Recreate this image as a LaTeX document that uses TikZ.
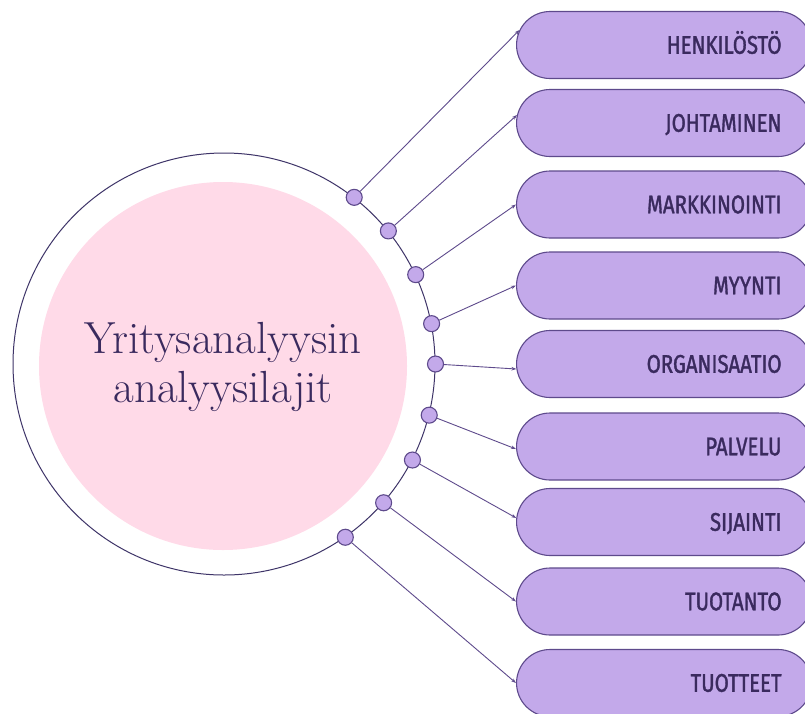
\documentclass[tikz,border=0pt]{standalone}
\usepackage{fontspec}
\newfontfamily\labelfont[FakeStretch=0.8, FakeBold=1.4]{Fira Sans}
\usetikzlibrary{arrows.meta}
\definecolor{lav}{HTML}{C3A9EA}
\definecolor{lavline}{HTML}{5E4A8C}
\definecolor{ink}{HTML}{3A2A5E}
\definecolor{blush}{HTML}{FFDAE8}
\definecolor{ringcol}{HTML}{3E3468}

\begin{document}
\begin{tikzpicture}[x=1pt,y=-1pt,
  topic/.style={draw=lavline, line width=1.1pt, fill=lav, rounded corners=33.5pt,
    minimum height=67pt, text width=235pt, align=right, inner xsep=30pt, inner ysep=0pt,
    text height=17.5pt, text depth=0pt,
    font=\labelfont\fontsize{25.5}{25.5}\selectfont, text=ink, anchor=west},
  knob/.style={circle, draw=lavline, fill=lav, minimum size=16pt, inner sep=0pt, line width=1.1pt},
  link/.style={draw=lavline, line width=0.9pt, -{Stealth[length=5pt,width=3.5pt]}}
]
\useasboundingbox (0,0) rectangle (805,713);
\fill[white] (0,0) rectangle (805,713);

% central ring and pink disc with the title
\node[circle, draw=ringcol, line width=1pt, minimum size=422pt, inner sep=0pt] (ring) at (224,364) {};
\node[circle, fill=blush, minimum size=368pt, inner sep=0pt] (core) at (223,366) {};
\node[font=\fontsize{45}{49}\selectfont, text=ink, align=center] (title) at (223,366.5)
  {Yritysanalyysin\\analyysilajit};

% topic boxes
\node[topic] (b1) at (516,45)    {HENKILÖSTÖ};
\node[topic] (b2) at (516,123)   {JOHTAMINEN};
\node[topic] (b3) at (516,204.5) {MARKKINOINTI};
\node[topic] (b4) at (516,285.5) {MYYNTI};
\node[topic] (b5) at (516,364)   {ORGANISAATIO};
\node[topic] (b6) at (516,446.5) {PALVELU};
\node[topic] (b7) at (516,522)   {SIJAINTI};
\node[topic] (b8) at (516,601.5) {TUOTANTO};
\node[topic] (b9) at (516,683)   {TUOTTEET};

% dots sitting on the ring
\node[knob] (d1) at (ring.52.2) {};
\node[knob] (d2) at (ring.39.1) {};
\node[knob] (d3) at (ring.25.3) {};
\node[knob] (d4) at (ring.11.5) {};
\node[knob] (d5) at (ring.-0.8) {};
\node[knob] (d6) at (ring.-14.2) {};
\node[knob] (d7) at (ring.-27.5) {};
\node[knob] (d8) at (ring.-41.4) {};
\node[knob] (d9) at (ring.-55.4) {};

% connectors from the dots to the boxes
\draw[link] (d1) -- ([yshift=15pt,xshift=3.5pt]b1.west);
\draw[link] (d2) -- ([yshift=8pt,xshift=1pt]b2.west);
\draw[link] (d3) -- (b3.west);
\draw[link] (d4) -- (b4.west);
\draw[link] (d5) -- ([yshift=-5pt,xshift=0.4pt]b5.west);
\draw[link] (d6) -- ([yshift=-2.5pt]b6.west);
\draw[link] (d7) -- ([yshift=4pt,xshift=0.3pt]b7.west);
\draw[link] (d8) -- (b8.west);
\draw[link] (d9) -- (b9.west);
\end{tikzpicture}
\end{document}
